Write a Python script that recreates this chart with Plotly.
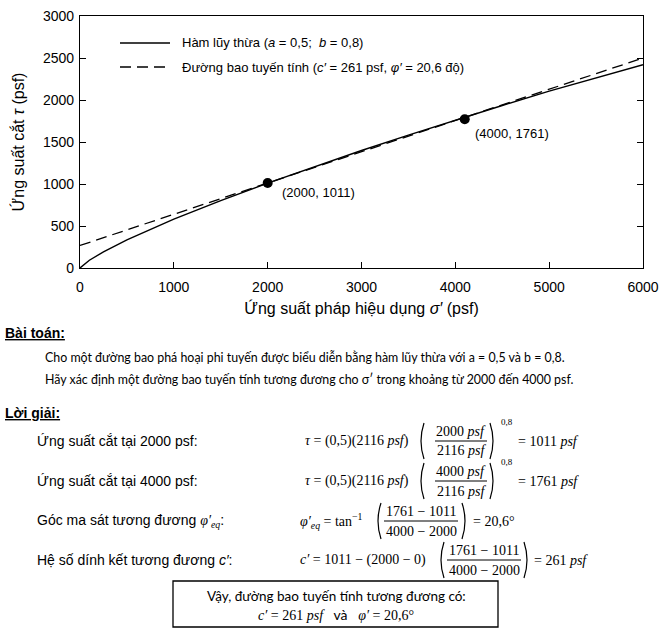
import plotly.graph_objects as go

# power-law envelope (tau = a*pa*(sigma/pa)^b)
sigma_power = [0, 100, 250, 500, 1000, 1500, 2000, 2500, 3000, 3500, 4000, 4500, 5000, 5500, 6000]
tau_power = [0, 92, 192, 334, 581, 803, 1011, 1209, 1399, 1582, 1761, 1935, 2105, 2265, 2420]

# equivalent linear envelope (c' = 261 psf, phi' = 20.6 deg)
sigma_linear = [0, 6000]
tau_linear = [268, 2500]

# the two matching points
sigma_pts = [2000, 4100]
tau_pts = [1011, 1770]
pt_labels = ["(2000, 1011)", "(4000, 1761)"]
pt_label_x = [2131, 4188]
pt_label_y = [893, 1607]

x_ticks = [0, 1000, 2000, 3000, 4000, 5000, 6000]
y_ticks = [0, 500, 1000, 1500, 2000, 2500, 3000]

W, H = 661, 633
NARROW = "Liberation Sans Narrow, Arial Narrow, Liberation Sans, Arial, sans-serif"
SANS = "Liberation Sans, Arial, sans-serif"
SERIF = "Liberation Serif, DejaVu Serif, serif"
BODY = "Lato, Carlito, Calibri, sans-serif"


def px(x):
    return x / W


def py(y):
    return 1 - y / H


fig = go.Figure()
fig.add_trace(go.Scatter(x=sigma_power, y=tau_power, mode='lines', name='Hàm lũy thừa',
                         line=dict(color='black', width=1.4), showlegend=False))
fig.add_trace(go.Scatter(x=sigma_linear, y=tau_linear, mode='lines', name='Đường bao tuyến tính',
                         line=dict(color='black', width=1.3, dash='11px,6px'), showlegend=False))
fig.add_trace(go.Scatter(x=sigma_pts, y=tau_pts, mode='markers',
                         marker=dict(color='black', size=10), showlegend=False))

for i in range(len(pt_labels)):
    fig.add_annotation(x=pt_label_x[i], y=pt_label_y[i], xref='x', yref='y', text=pt_labels[i],
                       showarrow=False, xanchor='left', yanchor='middle',
                       font=dict(family=SANS, size=13, color='black'))


def text(x, y, s, size=14, family=NARROW, anchor='left', **kw):
    fig.add_annotation(xref='paper', yref='paper', x=px(x), y=py(y), text=s, showarrow=False,
                       xanchor=anchor, yanchor='middle',
                       font=dict(family=family, size=size, color='black', **kw))


def hline(x0, x1, y, width=1.0, dash='solid'):
    fig.add_shape(type='line', xref='paper', yref='paper', x0=px(x0), x1=px(x1), y0=py(y), y1=py(y),
                  line=dict(color='black', width=width, dash=dash))


def paren(x, yc, h, side):
    # big bracket drawn as a quadratic curve
    if side == 'left':
        p = f"M {px(x + 3)},{py(yc - h / 2)} Q {px(x - 3)},{py(yc)} {px(x + 3)},{py(yc + h / 2)}"
    else:
        p = f"M {px(x - 3)},{py(yc - h / 2)} Q {px(x + 3)},{py(yc)} {px(x - 3)},{py(yc + h / 2)}"
    fig.add_shape(type='path', xref='paper', yref='paper', path=p, line=dict(color='black', width=1.2))


def frac(xc, x0, x1, yc, num, den, size=14):
    text(xc, yc - 10, num, size=size, family=SERIF, anchor='center')
    text(xc, yc + 10, den, size=size, family=SERIF, anchor='center')
    hline(x0, x1, yc, width=1.0)


# legend drawn by hand
hline(120, 170, 43, width=1.4)
hline(120, 170, 67, width=1.3, dash='11px,6px')
text(180, 43, "Hàm lũy thừa (<i>a</i> = 0,5;\u00a0 <i>b</i> = 0,8)", size=13, family=SANS)
text(180, 67, "Đường bao tuyến tính (<i>c′</i> = 261 psf, <i>φ′</i> = 20,6 độ)", size=13, family=SANS)

# problem statement
text(3, 333, "<b>Bài toán:</b>", size=14, lineposition='under')
text(43, 357, "Cho một đường bao phá hoại phi tuyến được biểu diễn bằng hàm lũy thừa với a = 0,5 và b = 0,8.",
     size=12.4, family=BODY)
text(43, 379, "Hãy xác định một đường bao tuyến tính tương đương cho σ′ trong khoảng từ 2000 đến 4000 psf.",
     size=12.4, family=BODY)
text(3, 413, "<b>Lời giải:</b>", size=14, lineposition='under')

# solution rows
text(35, 441, "Ứng suất cắt tại 2000 psf:")
text(35, 481, "Ứng suất cắt tại 4000 psf:")
text(35, 521, "Góc ma sát tương đương <span style='font-family:Liberation Serif'><i>φ′</i><sub><i>eq</i></sub></span>:")
text(35, 560, "Hệ số dính kết tương đương <i>c′</i>:")

for yc, num, res in [(441, "2000 <i>psf</i>", "= 1011 <i>psf</i>"), (481, "4000 <i>psf</i>", "= 1761 <i>psf</i>")]:
    text(303, yc, "<i>τ</i> = (0,5)(2116 <i>psf</i>)", family=SERIF)
    paren(421, yc, 36, 'left')
    frac(461, 435, 487, yc, num, "2116 <i>psf</i>")
    paren(493, yc, 36, 'right')
    text(499, yc - 19, "0,8", size=9, family=SERIF)
    text(516, yc, res, family=SERIF)

text(298, 521, "<i>φ′</i><sub><i>eq</i></sub> = tan<sup>−1</sup>", family=SERIF)
paren(378, 521, 36, 'left')
frac(421, 384, 458, 521, "1761 − 1011", "4000 − 2000")
paren(465, 521, 36, 'right')
text(471, 521, "= 20,6°", family=SERIF)

text(298, 560, "<i>c′</i> = 1011 − (2000 − 0)", family=SERIF)
paren(441, 560, 36, 'left')
frac(484, 447, 521, 560, "1761 − 1011", "4000 − 2000")
paren(527, 560, 36, 'right')
text(532, 560, "= 261 <i>psf</i>", family=SERIF)

# conclusion box
fig.add_shape(type='rect', xref='paper', yref='paper', x0=px(173), x1=px(498), y0=py(581), y1=py(627),
              line=dict(color='black', width=1.3))
text(336, 596, "Vậy, đường bao tuyến tính tương đương có:", size=13.5, family=BODY, anchor='center')
text(336, 614, "<span style='font-family:Liberation Serif'><i>c′</i> = 261 <i>psf</i></span>"
               "\u00a0\u00a0 và \u00a0\u00a0<span style='font-family:Liberation Serif'><i>φ′</i> = 20,6°</span>",
     size=14, family=BODY, anchor='center')

fig.update_layout(
    width=W, height=H,
    margin=dict(l=0, r=0, t=0, b=0, autoexpand=False),
    paper_bgcolor='white', plot_bgcolor='white',
    xaxis=dict(domain=[px(80), px(643)], range=[0, 6000], tickvals=x_ticks, automargin=False,
               ticks='inside', ticklen=6, tickcolor='black', showline=True, linecolor='black',
               linewidth=1.2, mirror=True, showgrid=False, zeroline=False,
               ticklabelstandoff=6, tickfont=dict(family=SANS, size=14, color='black'),
               title=dict(text="Ứng suất pháp hiệu dụng <i>σ′</i> (psf)", standoff=8,
                          font=dict(family=SANS, size=16, color='black'))),
    yaxis=dict(domain=[py(268), py(16)], range=[0, 3000], tickvals=y_ticks, automargin=False,
               ticks='inside', ticklen=6, tickcolor='black', showline=True, linecolor='black',
               linewidth=1.2, mirror='ticks', showgrid=False, zeroline=False,
               ticklabelstandoff=2, tickfont=dict(family=SANS, size=14, color='black'),
               title=dict(text="Ứng suất cắt <i>τ</i> (psf)", standoff=14,
                          font=dict(family=SANS, size=16, color='black'))),
)

# page body has a default margin; drop it so the figure sits at the window corner
fig.write_html("out.html", config={'displayModeBar': False},
               post_script="document.body.style.margin='0';")
